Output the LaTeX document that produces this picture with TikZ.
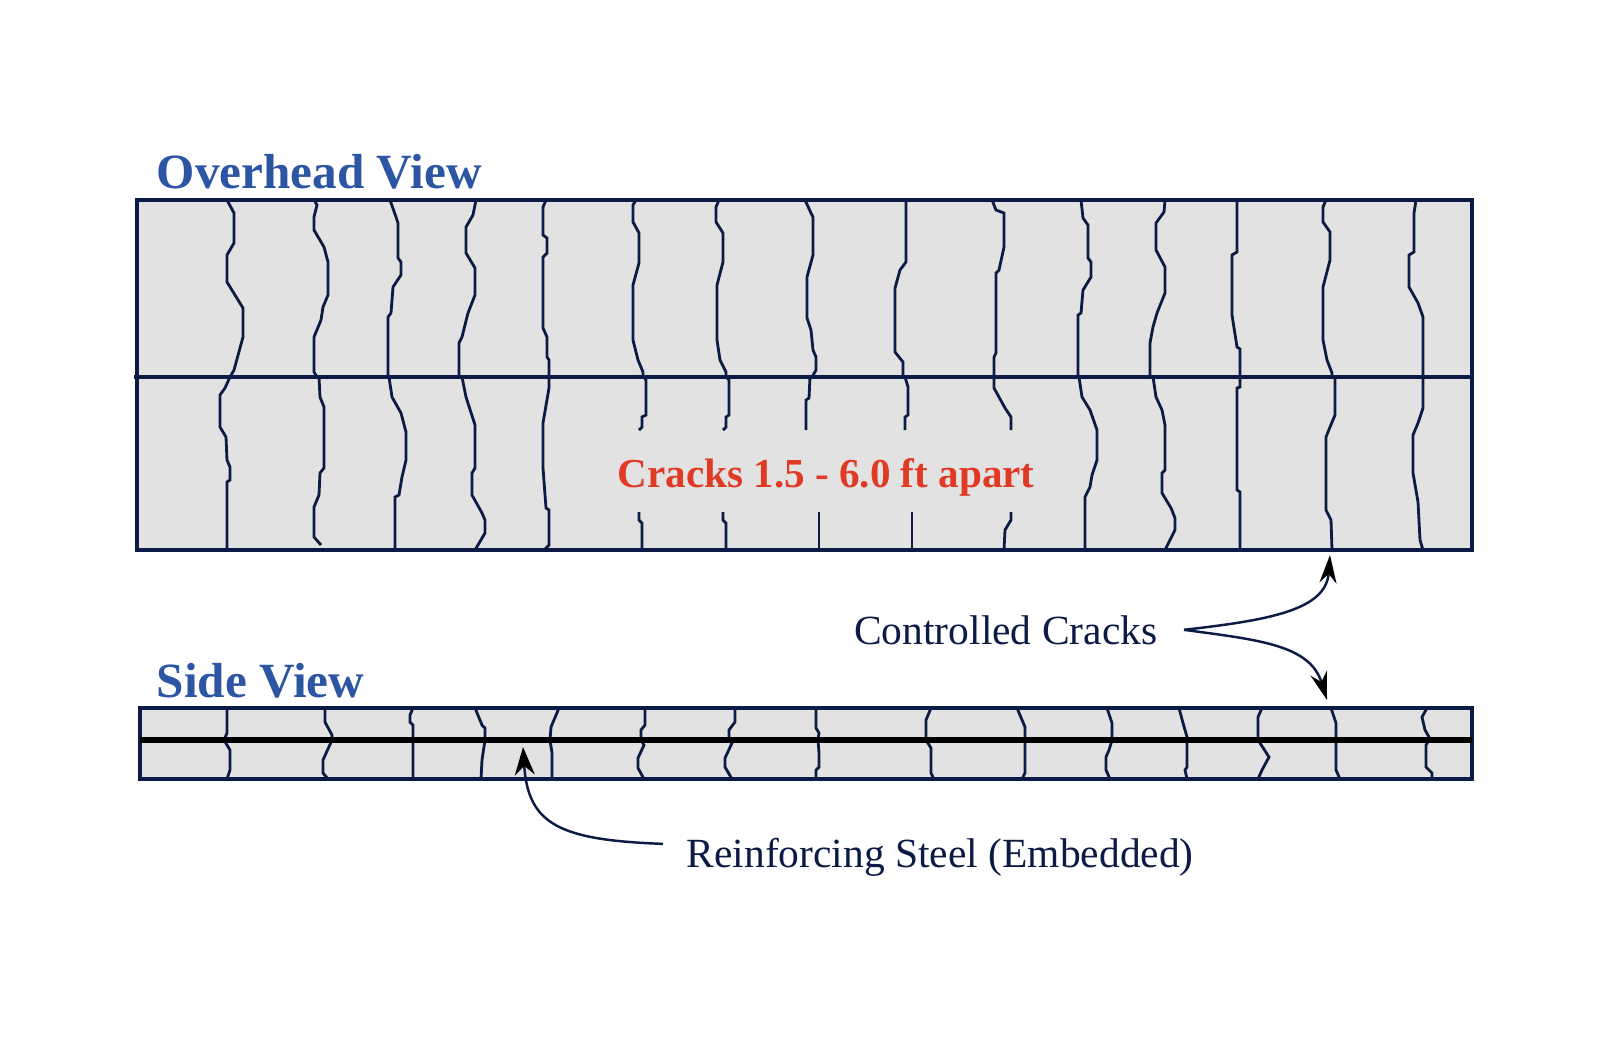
\documentclass[tikz,border=0pt]{standalone}
\usepackage{fontspec}
\usepackage{xcolor}
\setmainfont{Liberation Serif}
\usetikzlibrary{arrows.meta}
\definecolor{crackblue}{HTML}{0B1B45}
\definecolor{slabgray}{HTML}{E2E2E2}
\definecolor{headblue}{HTML}{2C55A3}
\definecolor{notered}{HTML}{E03A25}

\begin{document}
\begin{tikzpicture}[
  x=0.01cm, y=-0.01cm,
  slab/.style={draw=crackblue, fill=slabgray, line width=0.9pt},
  crack/.style={draw=crackblue, line width=0.8pt},
  joint/.style={draw=crackblue, line width=0.9pt},
  heading/.style={font=\fontsize{14}{16}\selectfont\bfseries, text=headblue, anchor=base west, inner sep=0pt},
  note/.style={font=\fontsize{11.8}{14}\selectfont, text=crackblue, anchor=base west, inner ysep=0pt},
  arr/.style={-{Stealth[length=2.8mm, width=1.7mm, black]}, draw=crackblue, line width=0.7pt}
]
\useasboundingbox (0,0) rectangle (1600,1038);

% overhead view
\draw[slab] (137,200) rectangle (1472,550);
\draw[joint] (134,377) -- (1472,377);
% upper lane
\draw[crack] plot coordinates {(227,200) (234,213) (234,243) (227,255) (227,282) (243,308) (243,337) (234,370) (230,377)};
\draw[crack] plot coordinates {(314,200) (317,205) (314,217) (314,230) (324,247) (328,262) (328,295) (323,307) (321,320) (314,337) (314,372) (317,377)};
\draw[crack] plot coordinates {(390,200) (396,217) (398,223) (398,258) (401,262) (401,275) (393,287) (391,313) (388,317) (388,377)};
\draw[crack] plot coordinates {(476,200) (473,215) (466,227) (466,253) (475,268) (475,295) (468,313) (462,337) (459,343) (459,377)};
\draw[crack] plot coordinates {(546,200) (543,207) (543,235) (547,238) (547,253) (543,257) (543,328) (547,337) (547,357) (549,360) (549,377)};
\draw[crack] plot coordinates {(636,200) (633,205) (633,222) (639,233) (639,263) (633,285) (633,340) (638,360) (643,372) (643,377)};
\draw[crack] plot coordinates {(719,200) (716,207) (716,222) (723,233) (723,262) (717,285) (717,340) (720,360) (726,372) (726,377)};
\draw[crack] plot coordinates {(805,200) (811,213) (813,217) (813,255) (807,277) (807,318) (811,330) (813,350) (816,357) (816,370) (812,377)};
\draw[crack] plot coordinates {(906,200) (906,262) (900,270) (895,288) (895,352) (903,362) (903,377)};
\draw[crack] plot coordinates {(992,200) (996,210) (1004,213) (1004,247) (999,270) (996,273) (996,353) (994,357) (994,377)};
\draw[crack] plot coordinates {(1081,200) (1083,218) (1088,225) (1088,258) (1091,262) (1091,277) (1083,290) (1081,313) (1078,315) (1078,377)};
\draw[crack] plot coordinates {(1165,200) (1164,212) (1156,223) (1156,250) (1165,267) (1165,293) (1157,313) (1153,327) (1150,343) (1150,377)};
\draw[crack] plot coordinates {(1237,200) (1237,252) (1232,255) (1232,315) (1237,347) (1240,349) (1240,377)};
\draw[crack] plot coordinates {(1326,200) (1323,207) (1323,222) (1330,232) (1330,260) (1323,287) (1323,340) (1327,360) (1332,373) (1332,377)};
\draw[crack] plot coordinates {(1416,200) (1414,213) (1414,252) (1409,255) (1409,287) (1418,303) (1423,317) (1423,377)};
% lower lane
\draw[crack] plot coordinates {(230,377) (225,388) (220,395) (220,427) (226,437) (227,460) (230,467) (230,480) (227,482) (227,550)};
\draw[crack] plot coordinates {(319,377) (320,397) (324,407) (324,468) (320,473) (319,495) (314,507) (314,537) (321,545)};
\draw[crack] plot coordinates {(389,377) (392,397) (401,413) (406,432) (406,460) (402,477) (399,495) (395,497) (395,550)};
\draw[crack] plot coordinates {(462,377) (466,397) (475,425) (475,468) (472,473) (472,495) (482,513) (485,520) (485,533) (475,550)};
\draw[crack] plot coordinates {(549,377) (549,388) (543,423) (543,468) (546,508) (549,510) (549,545) (544,550)};
\draw[crack] plot coordinates {(644,377) (646,380) (646,415) (642,417) (642,427) (639,430)};
\draw[crack] plot coordinates {(639,512) (639,520) (642,523) (642,550)};
\draw[crack] plot coordinates {(726,377) (729,380) (729,415) (726,417) (726,427) (723,430)};
\draw[crack] plot coordinates {(723,512) (723,520) (726,523) (726,550)};
\draw[crack] plot coordinates {(810,377) (809,398) (806,400) (806,430)};
\draw[crack] plot coordinates {(819,512) (819,550)};
\draw[crack] plot coordinates {(905,377) (908,387) (908,415) (905,417) (905,430)};
\draw[crack] plot coordinates {(912,512) (912,550)};
\draw[crack] plot coordinates {(994,377) (994,388) (1005,408) (1011,417) (1011,430)};
\draw[crack] plot coordinates {(1011,512) (1011,520) (1005,530) (1004,550)};
\draw[crack] plot coordinates {(1079,377) (1082,397) (1090,410) (1097,430) (1097,460) (1092,475) (1090,487) (1085,497) (1085,550)};
\draw[crack] plot coordinates {(1153,377) (1156,397) (1162,410) (1165,425) (1165,470) (1162,473) (1162,493) (1171,508) (1175,518) (1175,530) (1165,550)};
\draw[crack] plot coordinates {(1240,377) (1240,387) (1237,388) (1237,490) (1240,492) (1240,550)};
\draw[crack] plot coordinates {(1335,377) (1335,415) (1330,427) (1326,437) (1326,510) (1331,520) (1332,550)};
\draw[crack] plot coordinates {(1423,377) (1423,408) (1418,423) (1413,435) (1413,473) (1418,502) (1420,540) (1423,550)};

% side view
\draw[slab] (140,708) rectangle (1472,779);
\draw[crack] plot coordinates {(227,708) (227,733) (224,740) (230,750) (230,770) (227,779)};
\draw[crack] plot coordinates {(325,708) (325,722) (332,735) (332,740) (323,760) (323,773) (328,779)};
\draw[crack] plot coordinates {(413,708) (410,715) (410,722) (413,725) (413,779)};
\draw[crack] plot coordinates {(475,708) (482,725) (485,728) (485,740) (482,760) (481,779)};
\draw[crack] plot coordinates {(559,708) (551,727) (550,740) (552,753) (552,779)};
\draw[crack] plot coordinates {(645,708) (645,725) (641,730) (641,740) (644,745) (638,758) (638,768) (644,779)};
\draw[crack] plot coordinates {(735,708) (735,722) (729,730) (729,740) (732,743) (725,758) (725,767) (732,779)};
\draw[crack] plot coordinates {(816,708) (816,728) (819,733) (818,740) (819,753) (819,767) (816,770) (816,779)};
\draw[crack] plot coordinates {(931,708) (926,720) (926,740) (931,748) (931,773) (934,779)};
\draw[crack] plot coordinates {(1017,708) (1025,727) (1025,773) (1022,779)};
\draw[crack] plot coordinates {(1107,708) (1112,723) (1112,740) (1109,750) (1106,757) (1106,770) (1110,779)};
\draw[crack] plot coordinates {(1179,708) (1183,723) (1187,737) (1187,767) (1185,770) (1187,779)};
\draw[crack] plot coordinates {(1262,708) (1258,717) (1258,740) (1269,757) (1262,770) (1258,779)};
\draw[crack] plot coordinates {(1331,708) (1336,723) (1336,770) (1340,779)};
\draw[crack] plot coordinates {(1427,708) (1422,717) (1425,730) (1429,737) (1429,740) (1426,745) (1426,767) (1432,773) (1432,779)};
% steel bar
\draw[line width=1.7pt, black] (140,740) -- (1472,740);

% labels
\node[heading] (overhead) at (156,188) {Overhead View};
\node[heading] (sideview) at (156,697) {Side View};
\node[font=\fontsize{11.7}{14}\selectfont\bfseries, text=notered, anchor=base, inner sep=0pt] (spacing) at (826,487) {Cracks 1.5 - 6.0 ft apart};
\node[note, anchor=base east, inner xsep=0.26cm] (ctrlbl) at (1184,644) {Controlled Cracks};
\node[note, inner xsep=0.23cm] (steellbl) at (663,867) {Reinforcing Steel (Embedded)};

% arrows
\coordinate (uptip) at (1330,555);
\coordinate (downtip) at (1327,700);
\coordinate (steeltip) at (523,747);
\draw[arr] (ctrlbl.east) .. controls (1270,620) and (1326,610) .. (uptip);
\draw[arr] (ctrlbl.east) .. controls (1260,640) and (1310,645) .. (downtip);
\draw[arr, -{Stealth[length=2.8mm, width=2mm, black]}] ([yshift=0.13cm]steellbl.west) .. controls (560,840) and (528,825) .. (steeltip);
\end{tikzpicture}
\end{document}
